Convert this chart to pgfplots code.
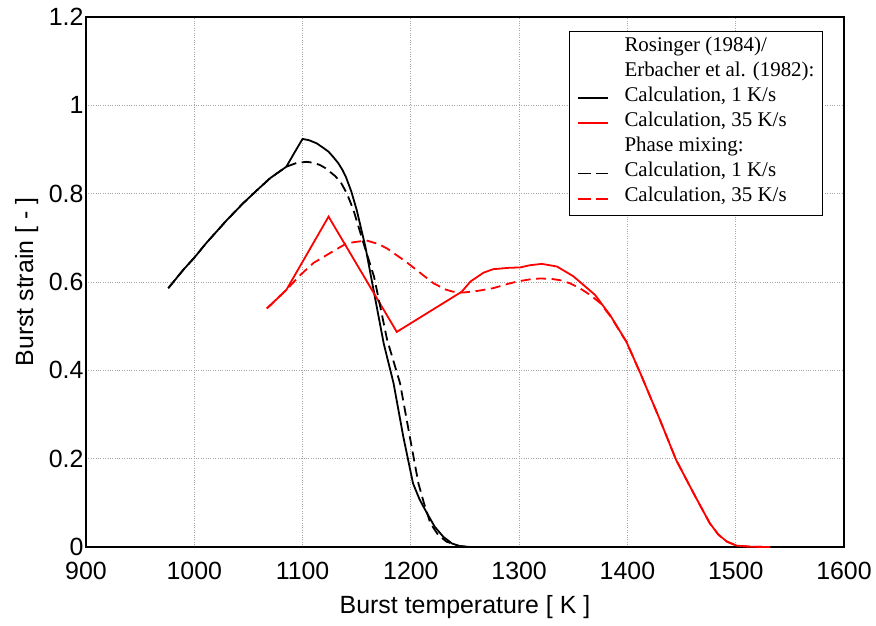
\documentclass[border=0pt]{standalone}
\usepackage{fontspec}
\setmainfont{Liberation Sans}
\newfontfamily\tnr{Liberation Serif}
\usepackage{pgfplots}
\pgfplotsset{compat=1.18}
\pgfplotsset{
  solidblack/.style={black, line width=1.8bp},
  solidred/.style={red, line width=1.8bp},
  dashblack/.style={black, line width=1.8bp, dash pattern=on 10bp off 5.5bp},
  dashred/.style={red, line width=1.8bp, dash pattern=on 10bp off 5.5bp},
}
\begin{document}
\begin{tikzpicture}
\begin{axis}[
  name=ax,
  scale only axis,
  width=758bp, height=530bp,
  xmin=900, xmax=1600, ymin=0, ymax=1.2,
  xtick={900,1000,...,1600},
  ytick={0,0.2,...,1.2},
  /pgf/number format/1000 sep={},
  /pgf/number format/assume math mode=true,
  tick label style={font=\fontsize{25}{28}\selectfont},
  xticklabel style={yshift=-12bp},
  yticklabel style={xshift=1bp},
  label style={font=\fontsize{25}{28}\selectfont},
  major tick length=0pt,
  grid=major,
  major grid style={gray!70, dotted, line width=0.8bp},
  axis line style={line width=1.3bp},
  xlabel={Burst temperature [ K ]},
  ylabel={Burst strain [ - ]},
  xlabel style={at={(axis description cs:0.5,-0.1264)}, anchor=base},
  ylabel style={at={(axis description cs:-0.0699,0.5)}, anchor=base},
  legend cell align=left,
  legend style={at={(rel axis cs:0.9723,0.9736)}, anchor=north east, draw=black, line width=1.1bp,
    font=\tnr\fontsize{21}{25}\selectfont, row sep=0bp, column sep=15.5bp,
    inner xsep=8bp, inner ysep=4bp,
    nodes={inner sep=0bp, text height=15.5bp, text depth=9.6bp}},
  legend image code/.code={\draw[#1] (0bp,0bp) -- (30bp,0bp);},
]
\addlegendimage{empty legend}
\addlegendentry{Rosinger (1984)/}
\addlegendimage{empty legend}
\addlegendentry{Erbacher et al. (1982):}
\addlegendimage{solidblack}
\addlegendentry{Calculation, 1 K/s}
\addlegendimage{solidred}
\addlegendentry{Calculation, 35 K/s}
\addlegendimage{empty legend}
\addlegendentry{Phase mixing:}
\addlegendimage{dashblack, dash pattern=on 12.5bp off 5bp}
\addlegendentry{Calculation, 1 K/s}
\addlegendimage{dashred, dash pattern=on 12.5bp off 5bp}
\addlegendentry{Calculation, 35 K/s}
\addplot[solidblack, forget plot] table {
976 0.586
990 0.628
1000 0.655
1011 0.688
1030 0.740
1045 0.778
1058 0.808
1070 0.835
1085 0.861
1093 0.895
1100 0.924
1106 0.921
1113 0.914
1119 0.904
1124 0.895
1128 0.884
1133 0.869
1137 0.853
1140 0.838
1145 0.805
1150 0.763
1158 0.68
1165 0.589
1175 0.46
1184 0.371
1193 0.25
1202 0.144
1208 0.108
1215 0.076
1222 0.046
1230 0.023
1238 0.008
1245 0.002
1255 0
};
\addplot[solidred, forget plot] table {
1067 0.540
1085 0.582
1124 0.748
1187 0.487
1247 0.578
1255 0.601
1267 0.621
1276 0.629
1290 0.632
1301 0.633
1310 0.638
1321 0.641
1335 0.635
1350 0.613
1370 0.571
1384 0.525
1399 0.465
1412 0.393
1430 0.288
1445 0.197
1461 0.122
1476 0.054
1484 0.028
1492 0.012
1501 0.003
1515 0.0005
1532 0
};
\addplot[dashblack, forget plot] table {
976 0.586
990 0.628
1000 0.655
1011 0.688
1030 0.740
1045 0.778
1058 0.808
1070 0.835
1085 0.861
1095 0.870
1104 0.872
1110 0.870
1116 0.865
1121 0.858
1125 0.850
1130 0.840
1135 0.827
1141 0.800
1147 0.763
1156 0.690
1166 0.612
1178 0.470
1190 0.371
1199 0.250
1207 0.144
1212 0.100
1218 0.054
1225 0.028
1233 0.012
1245 0.002
1255 0
};
\addplot[dashred, forget plot] table {
1067 0.540
1085 0.582
1098 0.616
1110 0.643
1125 0.665
1141 0.688
1159 0.694
1170 0.686
1178 0.676
1196 0.645
1210 0.618
1221 0.597
1232 0.583
1239 0.578
1248 0.576
1262 0.580
1276 0.586
1290 0.596
1298 0.601
1310 0.606
1319 0.608
1330 0.607
1338 0.604
1347 0.597
1356 0.586
1366 0.570
1375 0.552
1385 0.520
1396 0.476
1399 0.465
1412 0.393
1430 0.288
1445 0.197
1461 0.122
1476 0.054
1484 0.028
1492 0.012
1501 0.003
1515 0.0005
1532 0
};
\end{axis}
\pgfresetboundingbox
\path (ax.south west) ++(-86bp,-79bp) coordinate (bl);
\path (ax.north east) ++(32bp,17bp) coordinate (tr);
\useasboundingbox (bl) rectangle (tr);
\end{tikzpicture}
\end{document}
